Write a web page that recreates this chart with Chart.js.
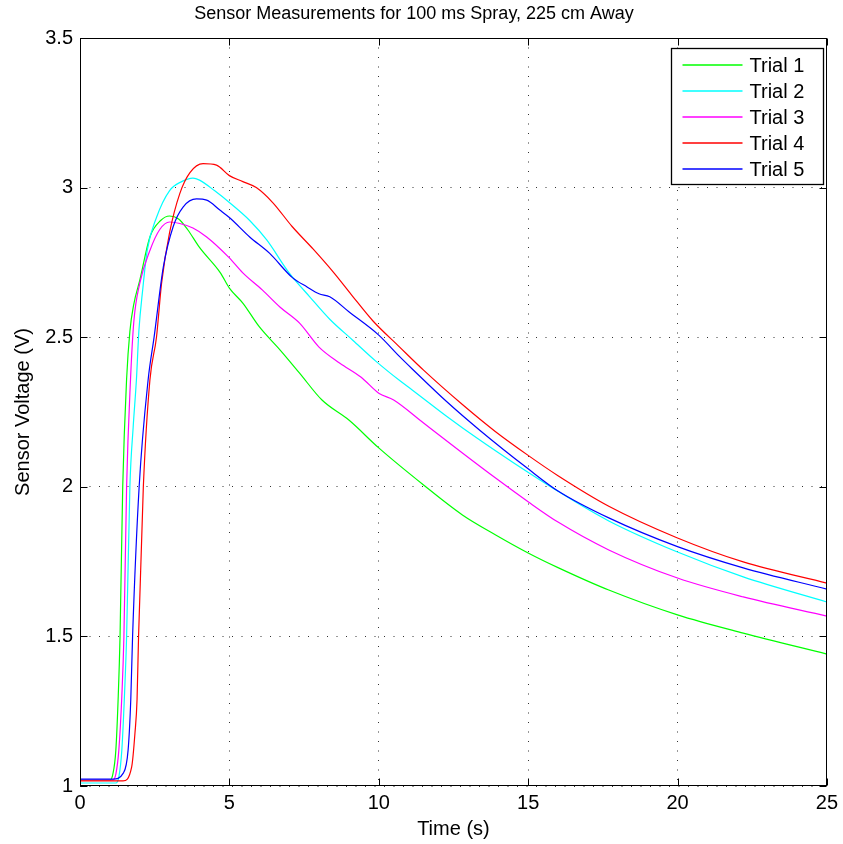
<!DOCTYPE html>
<html>
<head>
<meta charset="utf-8">
<title>Sensor Measurements</title>
<script src="https://cdn.jsdelivr.net/npm/chart.js@4.4.0/dist/chart.umd.min.js"></script>
<style>
  html, body { margin: 0; padding: 0; background: #fff; }
  #wrap { width: 843px; height: 844px; }
</style>
</head>
<body>
<div id="wrap"><canvas id="sensorChart" width="843" height="844"></canvas></div>
<script>
// sample times (s) and sensor voltages (V) for each trial
const trial1Time = [0, 1.0, 1.1, 1.2, 1.28, 1.34, 1.43, 1.56, 1.67, 1.8, 2.0, 2.34, 2.7, 3.0, 3.3, 3.6, 4.0, 4.7, 5.0, 5.45, 6.0, 6.7, 7.35, 8.1, 9.0, 10.0, 11.5, 12.8, 13.9, 15.0, 16.0, 17.7, 20.0, 22.2, 25];
const trial1Volt = [1.02, 1.02, 1.04, 1.12, 1.3, 1.5, 2.0, 2.36, 2.52, 2.61, 2.69, 2.835, 2.89, 2.905, 2.895, 2.86, 2.80, 2.715, 2.664, 2.614, 2.535, 2.457, 2.38, 2.29, 2.223, 2.13, 2.006, 1.906, 1.84, 1.779, 1.73, 1.655, 1.572, 1.511, 1.441];

const trial2Time = [0, 1.2, 1.3, 1.4, 1.5, 1.56, 1.67, 1.78, 1.89, 1.97, 2.1, 2.25, 2.56, 3.0, 3.4, 3.78, 4.0, 4.5, 5.0, 5.68, 6.25, 7.0, 7.69, 8.36, 9.13, 9.9, 10.7, 11.13, 12.27, 13.37, 14.47, 16.0, 17.7, 20.0, 22.2, 25];
const trial2Volt = [1.01, 1.01, 1.03, 1.12, 1.33, 1.5, 2.0, 2.2, 2.36, 2.52, 2.66, 2.79, 2.9, 2.99, 3.02, 3.032, 3.025, 2.99, 2.95, 2.89, 2.825, 2.715, 2.635, 2.56, 2.49, 2.42, 2.355, 2.323, 2.236, 2.157, 2.083, 1.985, 1.886, 1.782, 1.699, 1.615];

const trial3Time = [0, 1.1, 1.2, 1.3, 1.4, 1.47, 1.56, 1.69, 1.8, 2.0, 2.34, 2.67, 3.0, 3.34, 3.78, 4.24, 5.0, 5.45, 6.1, 6.7, 7.35, 8.0, 8.7, 9.4, 10.0, 10.5, 11.5, 12.8, 13.9, 15.0, 16.0, 17.7, 20.0, 22.2, 25];
const trial3Volt = [1.02, 1.02, 1.04, 1.12, 1.3, 1.5, 2.0, 2.357, 2.55, 2.68, 2.79, 2.86, 2.885, 2.88, 2.865, 2.835, 2.765, 2.715, 2.658, 2.60, 2.547, 2.467, 2.413, 2.367, 2.313, 2.29, 2.213, 2.113, 2.03, 1.95, 1.882, 1.789, 1.695, 1.632, 1.568];

const trial4Time = [0, 1.44, 1.73, 1.84, 1.91, 1.96, 2.12, 2.34, 2.56, 2.73, 3.0, 3.34, 3.68, 4.12, 4.57, 5.0, 5.45, 5.9, 6.45, 7.1, 7.8, 8.5, 9.1, 9.8, 10.7, 11.5, 12.8, 13.9, 15.0, 16.0, 17.7, 20.0, 22.2, 25];
const trial4Volt = [1.017, 1.017, 1.064, 1.177, 1.29, 1.5, 2.0, 2.357, 2.5, 2.68, 2.85, 2.98, 3.05, 3.08, 3.075, 3.04, 3.02, 3.0, 2.95, 2.87, 2.795, 2.715, 2.64, 2.555, 2.467, 2.39, 2.275, 2.185, 2.105, 2.037, 1.935, 1.829, 1.749, 1.678];

const trial5Time = [0, 1.1, 1.45, 1.61, 1.7, 1.76, 1.98, 2.28, 2.48, 2.79, 3.12, 3.45, 3.9, 4.24, 4.68, 5.0, 5.68, 6.35, 7.1, 7.6, 8.0, 8.36, 9.0, 10.0, 10.7, 11.13, 12.27, 13.37, 15.0, 16.0, 17.7, 20.0, 22.2, 25];
const trial5Volt = [1.023, 1.023, 1.043, 1.12, 1.29, 1.5, 2.0, 2.357, 2.5, 2.735, 2.87, 2.935, 2.962, 2.958, 2.925, 2.90, 2.835, 2.78, 2.70, 2.668, 2.645, 2.635, 2.585, 2.507, 2.435, 2.393, 2.285, 2.19, 2.06, 1.986, 1.896, 1.80, 1.729, 1.658];

const trialLabels = ['Trial 1', 'Trial 2', 'Trial 3', 'Trial 4', 'Trial 5'];
const trialColors = ['#00ff00', '#00ffff', '#ff00ff', '#ff0000', '#0000ff'];
const xTickValues = [0, 5, 10, 15, 20, 25];
const yTickValues = [1, 1.5, 2, 2.5, 3, 3.5];

const FONT = "'Liberation Sans', Arial, Helvetica, sans-serif";

function toPoints(times, volts) {
  return times.map((t, i) => ({ x: t, y: volts[i] }));
}

const series = [
  toPoints(trial1Time, trial1Volt),
  toPoints(trial2Time, trial2Volt),
  toPoints(trial3Time, trial3Volt),
  toPoints(trial4Time, trial4Volt),
  toPoints(trial5Time, trial5Volt)
];

// box around the axes, inward tick marks and the boxed legend
const axesFrame = {
  id: 'axesFrame',
  afterDraw(chart) {
    const { ctx, chartArea: a, scales } = chart;
    const L = Math.round(a.left) + 0.5, R = Math.round(a.right) - 0.5;
    const T = Math.round(a.top) + 0.5, B = Math.round(a.bottom) - 0.5;
    const tick = 7;

    ctx.save();
    ctx.strokeStyle = '#000';
    ctx.lineWidth = 1;
    ctx.strokeRect(L, T, R - L, B - T);

    ctx.beginPath();
    xTickValues.forEach(v => {
      const px = Math.round(scales.x.getPixelForValue(v)) + 0.5;
      ctx.moveTo(px, B); ctx.lineTo(px, B - tick);
      ctx.moveTo(px, T); ctx.lineTo(px, T + tick);
    });
    yTickValues.forEach(v => {
      const py = Math.round(scales.y.getPixelForValue(v)) + 0.5;
      ctx.moveTo(L, py); ctx.lineTo(L + tick, py);
      ctx.moveTo(R, py); ctx.lineTo(R - tick, py);
    });
    ctx.stroke();

    // legend
    const w = 152, h = 136;
    const x0 = Math.round(a.right) - 156 + 0.5;
    const y0 = Math.round(a.top) + 10 + 0.5;
    ctx.fillStyle = '#fff';
    ctx.fillRect(x0, y0, w, h);
    ctx.strokeStyle = '#000';
    ctx.lineWidth = 1.3;
    ctx.strokeRect(x0, y0, w, h);

    ctx.font = '20px ' + FONT;
    ctx.textBaseline = 'middle';
    ctx.textAlign = 'left';
    trialLabels.forEach((label, i) => {
      const y = Math.round(y0 + 16 + i * 26);
      ctx.strokeStyle = trialColors[i];
      ctx.lineWidth = 1.6;
      ctx.beginPath();
      ctx.moveTo(x0 + 11, y);
      ctx.lineTo(x0 + 71, y);
      ctx.stroke();
      ctx.fillStyle = '#000';
      ctx.fillText(label, x0 + 78, y + 1);
    });
    ctx.restore();
  }
};

const ctx = document.getElementById('sensorChart').getContext('2d');
new Chart(ctx, {
  type: 'line',
  data: {
    datasets: series.map((pts, i) => ({
      label: trialLabels[i],
      data: pts,
      borderColor: trialColors[i],
      backgroundColor: trialColors[i],
      borderWidth: 1.2,
      pointRadius: 0,
      fill: false,
      cubicInterpolationMode: 'monotone',
      order: series.length - i
    }))
  },
  options: {
    responsive: false,
    animation: false,
    events: [],
    layout: { padding: { top: 0, right: 15, bottom: 0, left: 0 } },
    plugins: {
      legend: { display: false },
      tooltip: { enabled: false },
      title: {
        display: true,
        text: 'Sensor Measurements for 100 ms Spray, 225 cm Away',
        color: '#000',
        font: { family: FONT, size: 18, weight: 'normal' },
        padding: { top: 3, bottom: 13.4 }
      }
    },
    scales: {
      x: {
        type: 'linear',
        min: 0,
        max: 25,
        afterBuildTicks: scale => { scale.ticks = xTickValues.map(v => ({ value: v })); },
        afterFit: scale => { scale.height = 58; },
        ticks: {
          color: '#000',
          padding: 5,
          font: { family: FONT, size: 20 },
          callback: v => String(v)
        },
        grid: { color: '#333', lineWidth: 1, drawTicks: false },
        border: { display: false, dash: [1, 8.5] },
        title: {
          display: true,
          text: 'Time (s)',
          color: '#000',
          font: { family: FONT, size: 20 },
          padding: { top: 0, bottom: 3 }
        }
      },
      y: {
        type: 'linear',
        min: 1,
        max: 3.5,
        afterBuildTicks: scale => { scale.ticks = yTickValues.map(v => ({ value: v })); },
        afterFit: scale => { scale.width = 80; },
        ticks: {
          color: '#000',
          padding: 7,
          font: { family: FONT, size: 20 },
          callback: v => String(v)
        },
        grid: { color: '#333', lineWidth: 1, drawTicks: false },
        border: { display: false, dash: [1, 8.5] },
        title: {
          display: true,
          text: 'Sensor Voltage (V)',
          color: '#000',
          font: { family: FONT, size: 20 },
          padding: { top: 11, bottom: 0 }
        }
      }
    }
  },
  plugins: [axesFrame]
});
</script>
</body>
</html>
